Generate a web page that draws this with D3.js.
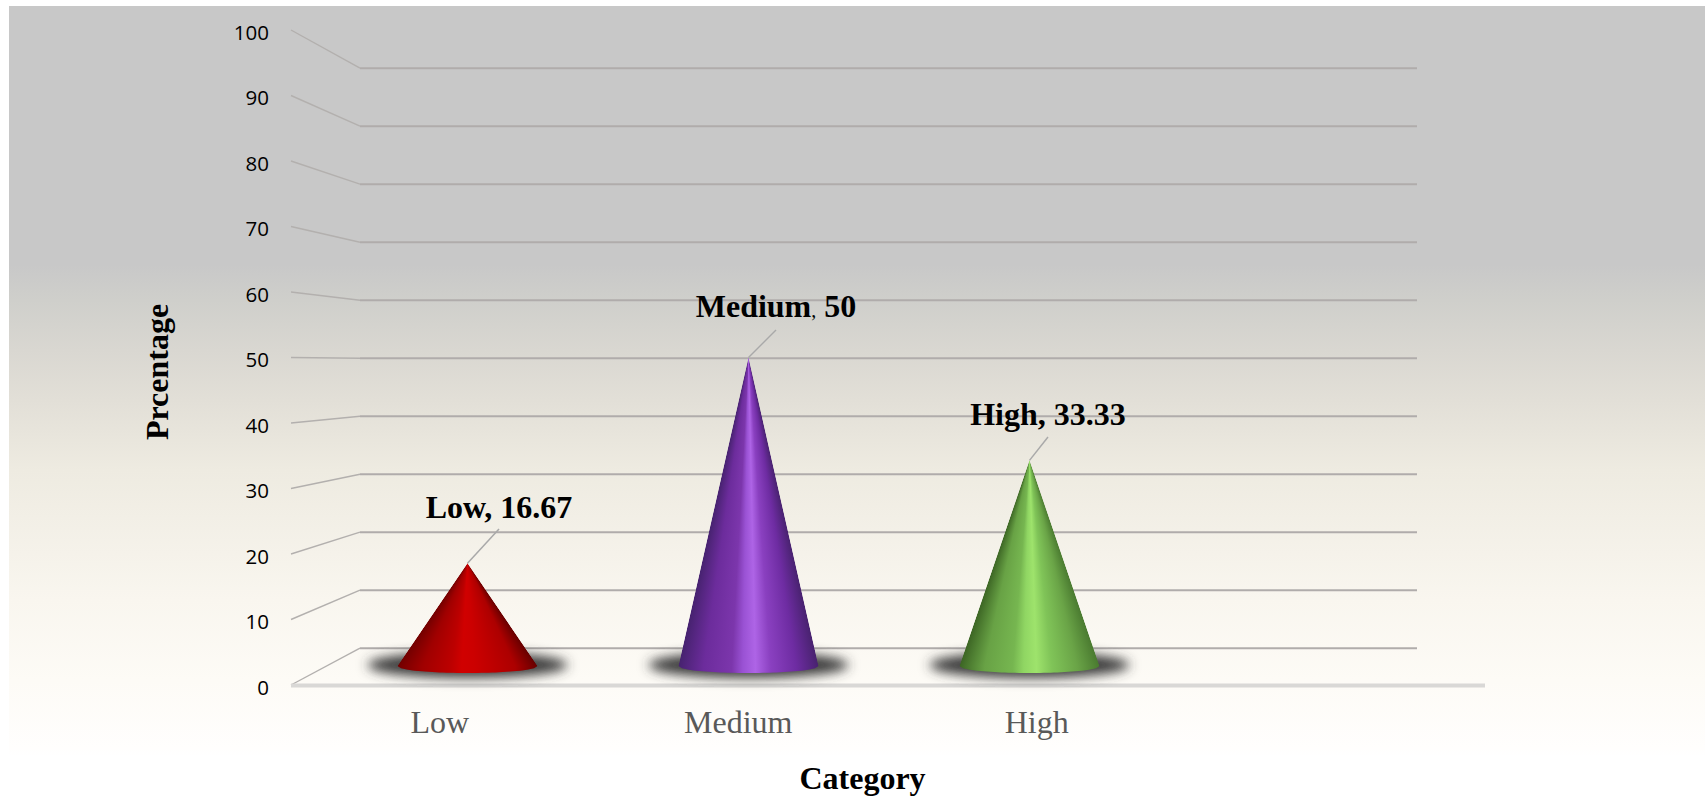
<!DOCTYPE html>
<html>
<head>
<meta charset="utf-8">
<style>
  html, body { margin: 0; padding: 0; background: #fff; }
  svg { display: block; }
</style>
<script src="https://cdn.jsdelivr.net/npm/d3@7/dist/d3.min.js"></script>
</head>
<body>
<svg id="chart" width="1705" height="804"></svg>
<script>
const categories = ["Low", "Medium", "High"];
const spareSlot = " ";
const percentages = [16.67, 50, 33.33];
const yTicks = [0, 10, 20, 30, 40, 50, 60, 70, 80, 90, 100];
const valueLabels = ["16.67", "50", "33.33"];
const coneRamps = [
  ["#720000", "#a00000", "#bc0000", "#d00000", "#cc0000", "#c00000", "#ac0000", "#660000"],
  ["#46226f", "#6c2c9c", "#7c36ac", "#9a52d4", "#ae64e6", "#8a40c0", "#6e2ca2", "#48226f"],
  ["#3c6524", "#68a245", "#76b650", "#90d663", "#9ee36c", "#80c458", "#6aa447", "#4a7a30"]
];
const rampStops = [0, 0.18, 0.38, 0.46, 0.55, 0.66, 0.84, 1];

const svg = d3.select("#chart");
const defs = svg.append("defs");

// Panel background
const bg = defs.append("linearGradient").attr("id", "panel")
  .attr("x1", 0).attr("y1", 0).attr("x2", 0).attr("y2", 1);
[[0, "#c8c8c8"], [0.345, "#c8c8c8"], [0.392, "#cfcfcb"], [0.459, "#d9d7d1"], [0.525, "#e2dfd7"],
 [0.619, "#eeebe1"], [0.792, "#f9f6ef"], [0.899, "#fdfbf6"], [0.99, "#fffefd"], [1, "#ffffff"]]
  .forEach(([o, c]) => bg.append("stop").attr("offset", o).attr("stop-color", c));
svg.append("rect").attr("x", 9).attr("y", 6).attr("width", 1696).attr("height", 750).attr("fill", "url(#panel)");

defs.append("filter").attr("id", "soft").attr("x", "-20%").attr("y", "-100%").attr("width", "140%").attr("height", "300%")
  .append("feGaussianBlur").attr("stdDeviation", 6);

// Three depth planes of the value axis: front edge, back wall, and the plane the cones stand on
const yFront = d3.scaleLinear().domain([0, 100]).range([685, 30]);
const yBack = d3.scaleLinear().domain([0, 100]).range([648.2, 68.2]);
const yMid = d3.scaleLinear().domain([0, 100]).range([666, 49]);

const slots = [...categories, spareSlot];
const xFront = d3.scaleBand().domain(slots).range([291, 1485]);
const xMid = d3.scaleBand().domain(slots).range([327, 1451]);
const backLeft = 360, backRight = 1417;

// Gridlines: a diagonal on the side wall, then a run along the back wall
const grid = svg.append("g").attr("fill", "none").attr("stroke", "#b0acab");
yTicks.forEach(t => {
  grid.append("line")
    .attr("x1", xFront.range()[0]).attr("y1", yFront(t))
    .attr("x2", backLeft).attr("y2", yBack(t))
    .attr("stroke-width", 1.4).attr("stroke", "#b3b0ae");
  grid.append("line")
    .attr("x1", backLeft).attr("y1", yBack(t))
    .attr("x2", backRight).attr("y2", yBack(t))
    .attr("stroke-width", 2);
});

// Floor edge
svg.append("line")
  .attr("x1", 291).attr("x2", 1485).attr("y1", yFront(0) + 0.5).attr("y2", yFront(0) + 0.5)
  .attr("stroke", "#d9d8d6").attr("stroke-width", 4);

// Value axis labels
svg.append("g").selectAll("text").data(yTicks).join("text")
  .attr("x", 269).attr("y", d => yFront(d) + 9.5)
  .attr("text-anchor", "end")
  .attr("font-family", "'Open Sans', sans-serif").attr("font-size", 20.5).attr("fill", "#000")
  .text(d => d);

// Cones
const halfWidth = 70, baseRy = 7;
const coneData = categories.map((c, i) => ({ c, v: percentages[i], ramp: coneRamps[i], label: valueLabels[i] }));

const shadows = svg.append("g");
coneData.forEach(d => {
  const cx = xMid(d.c) + xMid.bandwidth() / 2;
  shadows.append("ellipse")
    .attr("cx", cx).attr("cy", yMid(0) - 1)
    .attr("rx", 100).attr("ry", 13)
    .attr("fill", "#3a3a3a").attr("filter", "url(#soft)");
});

// Each cone is stacked from one-pixel rows sharing a horizontal gradient, so the
// shading narrows toward the apex; the outline clip gives the rounded base.
const cones = svg.append("g");
coneData.forEach((d, i) => {
  const cx = xMid(d.c) + xMid.bandwidth() / 2;
  const apexY = yMid(d.v), baseY = yMid(0);
  const grad = defs.append("linearGradient").attr("id", "cone" + i);
  rampStops.forEach((o, k) => grad.append("stop").attr("offset", o).attr("stop-color", d.ramp[k]));

  const rim = d3.range(0, 1.0001, 1 / 40).map(u => {
    const nx = 2 * u - 1;
    return [cx + nx * halfWidth, baseY + baseRy * Math.sqrt(Math.max(0, 1 - nx * nx))];
  });
  defs.append("clipPath").attr("id", "coneClip" + i)
    .append("path").attr("d", d3.line()([[cx, apexY], ...rim]) + "Z");

  const rows = d3.range(Math.floor(apexY), Math.ceil(baseY + baseRy) + 1);
  const rowHalf = y => Math.min(halfWidth, Math.max(0.5, halfWidth * (y + 0.5 - apexY) / (baseY - apexY)));
  cones.append("g").attr("clip-path", `url(#coneClip${i})`)
    .selectAll("rect").data(rows).join("rect")
    .attr("x", y => cx - rowHalf(y)).attr("y", y => y)
    .attr("width", y => 2 * rowHalf(y)).attr("height", 1.2)
    .attr("fill", `url(#cone${i})`);
});

// Data callouts with leader lines
const leaderEnds = [[499, 529], [776, 330], [1048, 437]];
const labelAnchors = [[499, 518], [776, 317], [1048, 425]];
const labelFont = "'Liberation Serif', 'Times New Roman', serif";
coneData.forEach((d, i) => {
  const cx = xMid(d.c) + xMid.bandwidth() / 2;
  svg.append("line")
    .attr("x1", cx).attr("y1", yMid(d.v))
    .attr("x2", leaderEnds[i][0]).attr("y2", leaderEnds[i][1])
    .attr("stroke", "#a9a9a9").attr("stroke-width", 1.5);
  const t = svg.append("text")
    .attr("x", labelAnchors[i][0]).attr("y", labelAnchors[i][1])
    .attr("text-anchor", "middle")
    .attr("font-family", labelFont).attr("font-weight", "bold").attr("font-size", 32).attr("fill", "#000");
  if (d.c === "Medium") {
    t.append("tspan").text(d.c);
    t.append("tspan").attr("font-weight", "normal").attr("font-size", 20).text(",");
    t.append("tspan").text(" " + d.label);
  } else {
    t.text(d.c + ", " + d.label);
  }
});

// Category labels
svg.append("g").selectAll("text").data(categories).join("text")
  .attr("x", d => xFront(d) + xFront.bandwidth() / 2 - 0.5).attr("y", 733)
  .attr("text-anchor", "middle")
  .attr("font-family", labelFont).attr("font-size", 32).attr("fill", "#595959")
  .text(d => d);

// Axis titles
svg.append("text")
  .attr("transform", "translate(168,372) rotate(-90)")
  .attr("text-anchor", "middle")
  .attr("font-family", labelFont).attr("font-weight", "bold").attr("font-size", 32).attr("fill", "#000")
  .text("Prcentage");
svg.append("text")
  .attr("x", 862.5).attr("y", 789)
  .attr("text-anchor", "middle")
  .attr("font-family", labelFont).attr("font-weight", "bold").attr("font-size", 32).attr("fill", "#000")
  .text("Category");
</script>
</body>
</html>
